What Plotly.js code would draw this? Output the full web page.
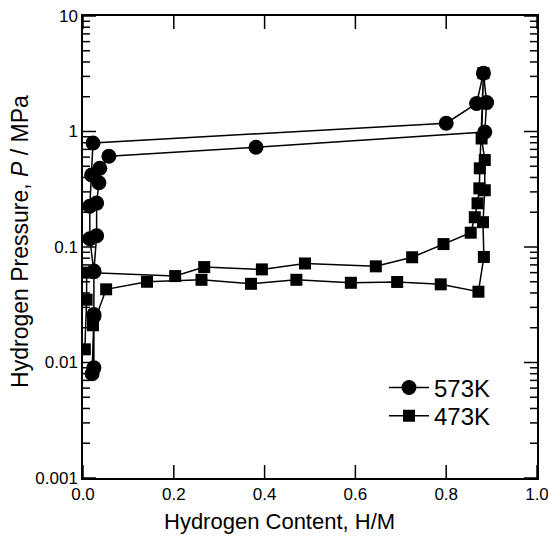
<!DOCTYPE html>
<html><head><meta charset="utf-8">
<script src="https://cdn.plot.ly/plotly-3.0.1.min.js"></script>
<style>html,body{margin:0;padding:0;background:#fff}</style>
</head><body>
<div id="chart" style="width:548px;height:540px"></div>
<script>
// 573K: absorption then desorption
const x573 = [0.020, 0.024, 0.024, 0.015, 0.015, 0.019, 0.022, 0.800, 0.867, 0.882, 0.889, 0.885, 0.381, 0.057, 0.037, 0.035, 0.030, 0.030, 0.024, 0.024, 0.024];
const p573 = [0.008, 0.025, 0.061, 0.118, 0.225, 0.42, 0.795, 1.18, 1.75, 3.2, 1.78, 0.99, 0.73, 0.61, 0.48, 0.36, 0.24, 0.125, 0.062, 0.026, 0.009];
// 473K: absorption then desorption
const x473 = [0.004, 0.008, 0.008, 0.203, 0.267, 0.394, 0.489, 0.645, 0.725, 0.794, 0.854, 0.863, 0.869, 0.873, 0.874, 0.882, 0.878, 0.885, 0.885, 0.881, 0.883, 0.871, 0.788, 0.692, 0.590, 0.470, 0.370, 0.261, 0.141, 0.051, 0.022];
const p473 = [0.013, 0.035, 0.060, 0.056, 0.067, 0.064, 0.072, 0.068, 0.0815, 0.106, 0.133, 0.181, 0.239, 0.322, 0.48, 3.2, 0.87, 0.566, 0.31, 0.164, 0.082, 0.041, 0.0475, 0.0498, 0.049, 0.052, 0.048, 0.052, 0.050, 0.043, 0.021];
const xTickVals = [0, 0.2, 0.4, 0.6, 0.8, 1.0];
const xTickText = ["0.0", "0.2", "0.4", "0.6", "0.8", "1.0"];
const yTickVals = [0.001, 0.01, 0.1, 1, 10];
const yTickText = ["0.001", "0.01", "0.1", "1", "10"];
const names = ["573K", "473K"];
const xTitle = "Hydrogen Content, H/M";
const yTitle = "Hydrogen Pressure, <i>P</i> / MPa";

// axis geometry
const W = 548, H = 540, M = {l: 83, r: 11, t: 16, b: 62};
const xRange = [0, 1], yLogRange = [-3, 1];
const plotW = W - M.l - M.r, plotH = H - M.t - M.b;

// minor tick positions (2..9 in each decade)
const minorVals = [];
for (let d = yLogRange[0]; d < yLogRange[1]; d++) for (let m = 2; m <= 9; m++) minorVals.push(m * Math.pow(10, d));

// inward tick marks on all four sides (axis decoration, built from the tick arrays)
const tickX = [], tickY = [];
const xLen = px => px / plotW * (xRange[1] - xRange[0]);
const yLen = px => px / plotH * (yLogRange[1] - yLogRange[0]);
xTickVals.forEach(v => {
  tickX.push(v, v, null); tickY.push(Math.pow(10, yLogRange[0]), Math.pow(10, yLogRange[0] + yLen(13)), null);
  tickX.push(v, v, null); tickY.push(Math.pow(10, yLogRange[1]), Math.pow(10, yLogRange[1] - yLen(13)), null);
});
const addY = (v, len) => {
  tickX.push(xRange[0], xRange[0] + xLen(len), null); tickY.push(v, v, null);
  tickX.push(xRange[1], xRange[1] - xLen(len), null); tickY.push(v, v, null);
};
yTickVals.forEach(v => addY(v, 13));
minorVals.forEach(v => addY(v, 7));

const font = {family: 'Liberation Sans, Arial, sans-serif', color: '#000'};

const traces = [
  {x: tickX, y: tickY, mode: 'lines', type: 'scatter', showlegend: false, hoverinfo: 'skip',
   connectgaps: false, cliponaxis: false, line: {color: '#000', width: 1.5}},
  {x: x573, y: p573, name: names[0], legend: 'legend', mode: 'lines+markers', type: 'scatter',
   line: {color: '#000', width: 1.5}, marker: {symbol: 'circle', size: 15, color: '#000'}},
  {x: x473, y: p473, name: names[1], legend: 'legend2', mode: 'lines+markers', type: 'scatter',
   line: {color: '#000', width: 1.5}, marker: {symbol: 'square', size: 12, color: '#000'}}
];

const legendBase = {xanchor: 'left', yanchor: 'middle', bgcolor: 'rgba(0,0,0,0)', borderwidth: 0,
  font: Object.assign({size: 24}, font), itemwidth: 40};

const layout = {
  width: W, height: H,
  margin: M,
  paper_bgcolor: '#fff', plot_bgcolor: '#fff',
  font: Object.assign({size: 17}, font),
  showlegend: true,
  legend: Object.assign({x: 0.663, y: 0.195}, legendBase),
  legend2: Object.assign({x: 0.663, y: 0.134}, legendBase),
  xaxis: {range: xRange, tickmode: 'array', tickvals: xTickVals, ticktext: xTickText, ticks: '',
          ticklabeloverflow: 'allow', linewidth: 1.5, linecolor: '#000', mirror: true, showline: true,
          showgrid: false, zeroline: false, tickfont: Object.assign({size: 17}, font)},
  yaxis: {type: 'log', range: yLogRange, tickmode: 'array', tickvals: yTickVals, ticktext: yTickText, ticks: '',
          ticklabeloverflow: 'allow', linewidth: 1.5, linecolor: '#000', mirror: true, showline: true,
          showgrid: false, zeroline: false, tickfont: Object.assign({size: 17}, font)},
  annotations: [
    {text: xTitle, xref: 'paper', yref: 'paper', x: 0.432, y: -0.095, xanchor: 'center', yanchor: 'middle',
     showarrow: false, font: Object.assign({size: 22}, font)},
    {text: yTitle, xref: 'paper', yref: 'paper', x: -0.139, y: 0.513, xanchor: 'center', yanchor: 'middle',
     textangle: -90, showarrow: false, font: Object.assign({size: 23}, font)}
  ]
};
Plotly.newPlot('chart', traces, layout, {displayModeBar: false});
</script>
</body></html>
